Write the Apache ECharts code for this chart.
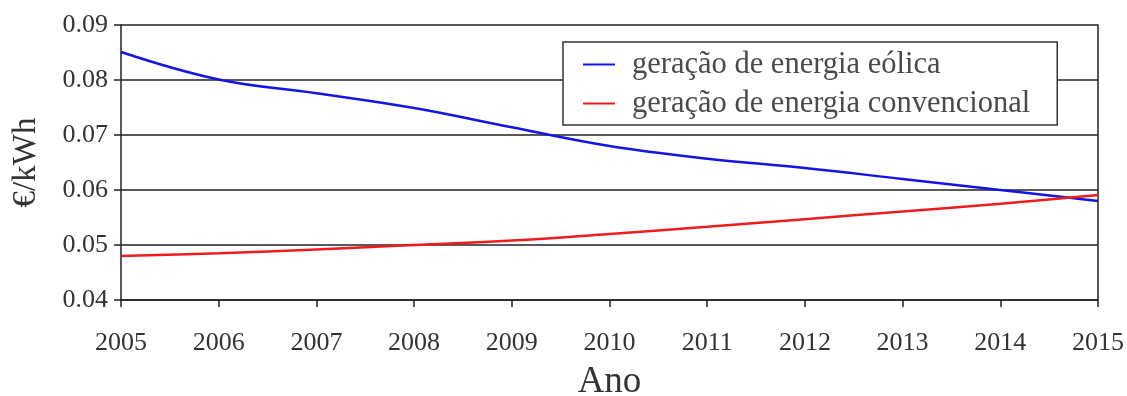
<!DOCTYPE html>
<html><head><meta charset="utf-8">
<script src="https://cdn.jsdelivr.net/npm/echarts@6/dist/echarts.min.js"></script>
<style>html,body{margin:0;padding:0;background:#fff}#c{width:1127px;height:396px}</style>
</head><body><div id="c"></div>
<script>
const years = [2005,2006,2007,2008,2009,2010,2011,2012,2013,2014,2015];
const eolica = [0.0851,0.0801,0.0776,0.0749,0.0714,0.0680,0.0657,0.0640,0.0620,0.0600,0.0580];
const convencional = [0.0480,0.0485,0.0492,0.0500,0.0508,0.0520,0.0533,0.0547,0.0561,0.0575,0.0591];
const seriesNames = ['geração de energia eólica','geração de energia convencional'];
const font = '"Liberation Serif", "DejaVu Serif", serif';
const chart = echarts.init(document.getElementById('c'));
chart.setOption({
  animation:false,
  backgroundColor:'#fff',
  grid:{left:121,right:29,top:25,bottom:96,containLabel:false,outerBoundsMode:'none'},
  legend:{
    orient:'vertical', left:563, top:42,
    padding:[7,27,6,20], itemGap:8,
    borderColor:'#333', borderWidth:1.5, backgroundColor:'#fff',
    icon:'rect', itemWidth:32, itemHeight:2,
    textStyle:{fontFamily:font,fontSize:30.5,color:'#4a4a4a',lineHeight:30,padding:[0,0,0,12]},
    data:seriesNames
  },
  xAxis:{
    type:'value', min:2005, max:2015, interval:1,
    name:'Ano', nameLocation:'middle', nameGap:64,
    nameTextStyle:{fontFamily:font,fontSize:37,color:'#333'},
    axisLine:{lineStyle:{color:'#222',width:1.5}},
    axisTick:{show:true,length:7,lineStyle:{color:'#222',width:1.5}},
    axisLabel:{fontFamily:font,fontSize:26,color:'#333',margin:30,formatter:v=>String(v)},
    splitLine:{show:false}
  },
  yAxis:[{
    type:'value', min:0.04, max:0.09, interval:0.01,
    name:'€/kWh', nameLocation:'middle', nameGap:78,
    nameTextStyle:{fontFamily:font,fontSize:33,color:'#333'},
    axisLine:{show:true,lineStyle:{color:'#222',width:1.5}},
    axisTick:{show:true,length:7,lineStyle:{color:'#222',width:1.5}},
    axisLabel:{fontFamily:font,fontSize:26,color:'#333',margin:13,formatter:v=>v.toFixed(2)},
    splitLine:{show:true,lineStyle:{color:'#222',width:1.5}}
  },{
    type:'value', min:0.04, max:0.09, interval:0.01, position:'right',
    axisLine:{show:true,lineStyle:{color:'#222',width:1.5}},
    axisTick:{show:false}, axisLabel:{show:false}, splitLine:{show:false}
  }],
  series:[
    {name:seriesNames[0],type:'line',smooth:0.4,symbol:'none',
     data:years.map((y,i)=>[y,eolica[i]]),lineStyle:{color:'#1414e6',width:2.5},itemStyle:{color:'#1414e6'}},
    {name:seriesNames[1],type:'line',smooth:0.4,symbol:'none',
     data:years.map((y,i)=>[y,convencional[i]]),lineStyle:{color:'#f01c1c',width:2.5},itemStyle:{color:'#f01c1c'}}
  ]
});
</script></body></html>
